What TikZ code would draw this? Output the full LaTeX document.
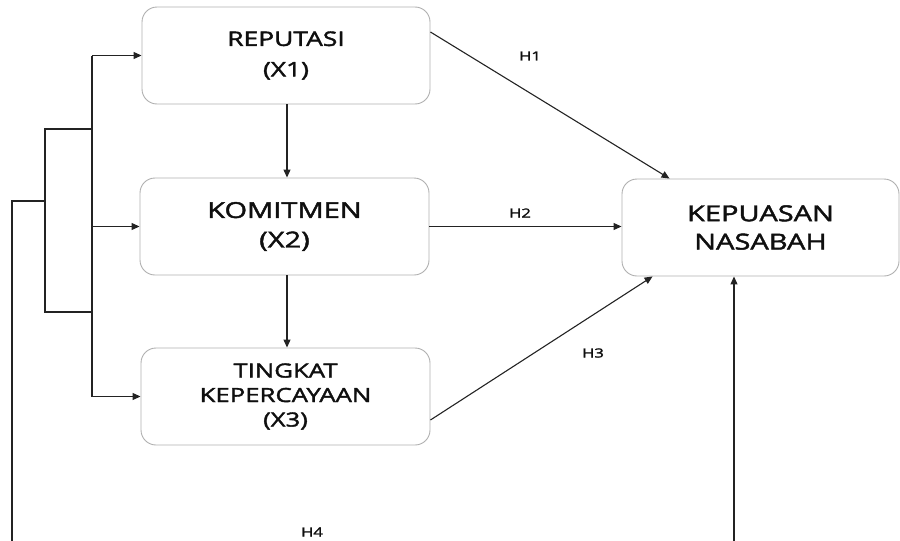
\documentclass[tikz,border=0pt]{standalone}
\usepackage{fontspec}
\setmainfont{Open Sans}[FakeStretch=1.32,FakeBold=2]
\usetikzlibrary{arrows.meta,calc}
\definecolor{boxline}{RGB}{175,175,175}
\definecolor{conn}{RGB}{35,35,35}
\definecolor{txt}{RGB}{15,15,15}
\tikzset{
  varbox/.style={draw=boxline, line width=0.9pt, rounded corners=15pt, align=center, inner sep=0pt, text=txt},
  conline/.style={draw=conn, line width=1.1pt},
  arr/.style={conline, -{Triangle[length=8pt,width=7pt]}},
  hlabel/.style={font=\fontsize{12.6}{14}\selectfont, inner sep=0pt, text=txt},
}
\begin{document}
\begin{tikzpicture}[x=1pt,y=-1pt]
\useasboundingbox (0,0) rectangle (900,541);
\node[varbox, minimum width=288pt, minimum height=97pt, font=\fontsize{20}{30.5}\selectfont] (x1) at (286,55.5) {REPUTASI\\(X1)};
\node[varbox, minimum width=289pt, minimum height=97pt, font=\fontsize{22}{29.5}\selectfont] (x2) at (284.5,226.5) {KOMITMEN\\(X2)};
\node[varbox, minimum width=289pt, minimum height=97pt, font=\fontsize{19.5}{24.5}\selectfont] (x3) at (285.5,396.5) {TINGKAT\\KEPERCAYAAN\\(X3)};
\node[varbox, minimum width=277pt, minimum height=97pt, font=\fontsize{22}{28.3}\selectfont] (y) at (760.5,227.5) {KEPUASAN\\NASABAH};
% vertical arrows
\draw[arr] ([xshift=1pt]x1.south) -- ([xshift=1pt]x1.south |- x2.north);
\draw[arr] ([xshift=2.5pt]x2.south) -- ([xshift=2.5pt]x2.south |- x3.north);
% hypotheses
\draw[arr] ([yshift=23.5pt]x1.east) -- ([xshift=48pt]y.north west);
\draw[arr] (x2.east) -- (x2.east -| y.west);
\draw[arr] ([yshift=-23.5pt]x3.east) -- ([xshift=31pt]y.south west);
\coordinate (rb) at (734,541);
\draw[arr] (rb) -- (rb |- y.south);
\node[hlabel] (h1) at (530,56) {H1};
\node[hlabel] (h2) at (520,213) {H2};
\node[hlabel] (h3) at (593,353) {H3};
\node[hlabel] (h4) at (312,532) {H4};
% left brackets
\coordinate (b1) at (92,0);
\draw[arr] (b1 |- x1.west) -- (x1.west);
\draw[arr] (b1 |- x2.west) -- (x2.west);
\draw[arr] (b1 |- x3.west) -- (x3.west);
\draw[conline] (b1 |- x1.west) -- (b1 |- x3.west);
\coordinate (b2t) at (45,129);
\coordinate (b2b) at (45,312);
\draw[conline] (b2t -| b1) -- (b2t) -- (b2b) -- (b2b -| b1);
\coordinate (b3t) at (12,201);
\coordinate (b3b) at (12,541);
\draw[conline] (b3t -| b2t) -- (b3t) -- (b3b);
\end{tikzpicture}
\end{document}
